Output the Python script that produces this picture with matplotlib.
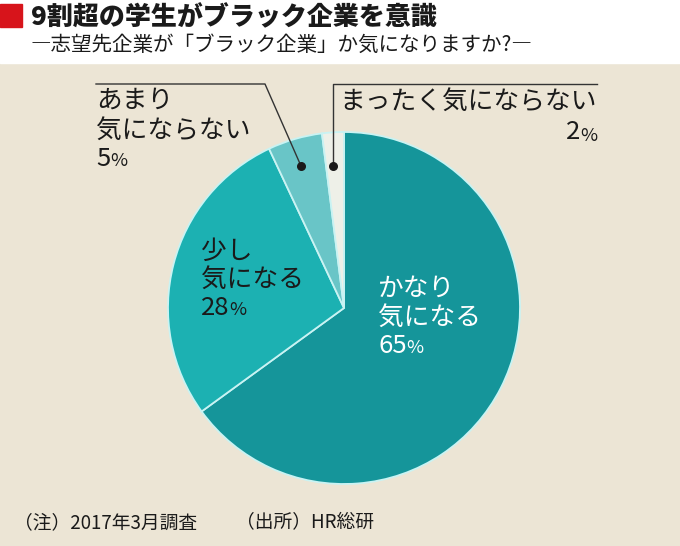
import matplotlib
matplotlib.use("Agg")
import matplotlib.pyplot as plt
from matplotlib.patches import Rectangle

plt.rcParams['font.family'] = ['Noto Sans CJK JP', 'DejaVu Sans']

W, H = 680, 546

title = "9割超の学生がブラック企業を意識"
subtitle = "―志望先企業が「ブラック企業」か気になりますか?―"
note = "（注）2017年3月調査"
source = "（出所）HR総研"

categories = ["かなり\n気になる", "少し\n気になる", "あまり\n気にならない", "まったく気にならない"]
shares = [65, 28, 5, 2]
colors = ["#15959a", "#1cb1b2", "#69c5c7", "#eef0e8"]

BG = "#ece5d5"


def Y(y):
    # image pixel row -> data y
    return H - y


fig = plt.figure(figsize=(6.8, 5.46), dpi=100)
fig.patch.set_facecolor(BG)
ax = fig.add_axes([0, 0, 1, 1])

ax.pie(shares, startangle=90, counterclock=False, center=(344, Y(308)),
       radius=176, colors=colors,
       wedgeprops=dict(edgecolor="#c9f3f3", linewidth=1.3))

ax.set_xlim(0, W)
ax.set_ylim(0, H)
ax.set_aspect("equal")
ax.axis("off")

# white title band + red block
ax.add_patch(Rectangle((0, Y(63)), W, 63, color="white", zorder=0.5))
ax.add_patch(Rectangle((0, Y(27)), 22, 23, color="#d7141b", zorder=1))
ax.text(31, Y(17), title, fontsize=18.7, fontweight="black", va="center",
        ha="left", color="#1a1a1a")
ax.text(31, Y(45), subtitle, fontsize=14.8, va="center", ha="left",
        color="#1a1a1a")

fs = 18.5


def label(x, ys, lines, pct, color):
    for yy, ln in zip(ys, lines):
        ax.text(x, Y(yy), ln, fontsize=fs, va="center", ha="left", color=color)
    t = ax.text(x, Y(ys[-1] + 28), str(pct), fontsize=fs, va="center",
                ha="left", color=color)
    ax.annotate("%", xy=(1, 0.08), xycoords=t, fontsize=fs * 0.72,
                va="bottom", ha="left", color=color)


big = categories[0].split("\n")
label(378, [289, 318], big, shares[0], "white")
small = categories[1].split("\n")
label(201, [252, 280], small, shares[1], "#1a1a1a")
few = categories[2].split("\n")
label(96, [101, 131], few, shares[2], "#1a1a1a")

# smallest slice: right aligned label
ax.text(597, Y(102), categories[3], fontsize=fs, va="center", ha="right",
        color="#1a1a1a")
p = ax.text(597, Y(136), "%", fontsize=fs * 0.72, va="center", ha="right",
            color="#1a1a1a")
ax.annotate(str(shares[3]), xy=(0, 0), xycoords=p, fontsize=fs,
            va="bottom", ha="right", color="#1a1a1a")

# leader lines
lc = "#333333"
ax.plot([96, 265, 301], [Y(84), Y(84), Y(166)], color=lc, lw=1, zorder=5)
ax.plot([333, 333, 597], [Y(166), Y(84), Y(84)], color=lc, lw=1, zorder=5)
ax.scatter([301, 333], [Y(166), Y(166)], s=30, color="#1a1a1a", zorder=6)

# footer
ax.text(14, Y(523), note, fontsize=13.5, va="center", ha="left", color="#1a1a1a")
ax.text(236, Y(523), source, fontsize=13.5, va="center", ha="left",
        color="#1a1a1a")

fig.savefig("out.png", dpi=100, facecolor=fig.get_facecolor())
